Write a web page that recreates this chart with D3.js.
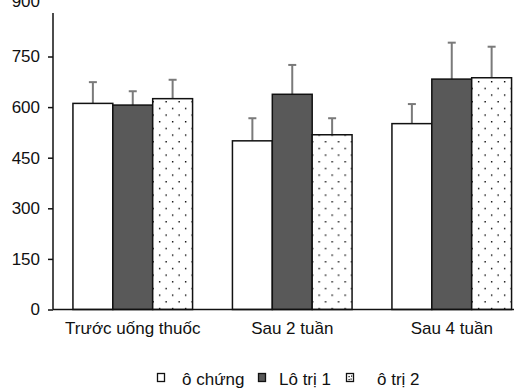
<!DOCTYPE html>
<html>
<head>
<meta charset="utf-8">
<script src="https://cdn.jsdelivr.net/npm/d3@7"></script>
<style>
  body { margin: 0; background: #fff; }
  svg { display: block; font-family: "Liberation Sans", Arial, sans-serif; }
</style>
</head>
<body>
<div id="chart"></div>
<script>
// data
const categories = ['Trước uống thuốc', 'Sau 2 tuần', 'Sau 4 tuần'];
const seriesNames = ['ô chứng', 'Lô trị 1', 'ô trị 2'];
// means per category x series
const means = [
    [611, 606, 625],
    [500, 638, 518],
    [551, 683, 687]
];
// top of the error bar (mean + sd)
const errTops = [
    [674, 647, 681],
    [567, 725, 567],
    [609, 791, 779]
];
const yTicks = [0, 150, 300, 450, 600, 750, 900];

const width = 514, height = 389;
const left = 53, bottom = 309.5;
const font = '17px';

const svg = d3.select('#chart').append('svg')
    .attr('width', width)
    .attr('height', height);

// dotted fill for the third series
const pat = svg.append('defs').append('pattern')
    .attr('id', 'dots')
    .attr('patternUnits', 'userSpaceOnUse')
    .attr('x', 476)
    .attr('y', 1)
    .attr('width', 13)
    .attr('height', 13.34);
pat.append('rect').attr('width', 13).attr('height', 13.34).attr('fill', '#fff');
pat.append('rect').attr('x', 0).attr('y', 0).attr('width', 1.4).attr('height', 1.4).attr('fill', '#000');
pat.append('rect').attr('x', 6.5).attr('y', 6.67).attr('width', 1.4).attr('height', 1.4).attr('fill', '#000');

const fills = ['#ffffff', '#595959', 'url(#dots)'];

const y = d3.scaleLinear().domain([0, 900]).range([bottom, bottom - 6 * 50.6]);
const x0 = d3.scaleBand().domain(categories)
    .range([left, 531.5])
    .paddingInner(0.25)
    .paddingOuter(0.125);
const x1 = d3.scaleBand().domain(d3.range(seriesNames.length))
    .range([0, x0.bandwidth()]);

// bars
const groups = svg.append('g')
    .selectAll('g')
    .data(categories)
    .enter().append('g')
    .attr('transform', d => `translate(${x0(d)},0)`);

groups.each(function(cat, ci) {
    const g = d3.select(this);
    const rows = means[ci].map((v, si) => ({ v, si, top: errTops[ci][si] }));
    const cx = d => x1(d.si) + x1.bandwidth() / 2;

    // error bars (upper only)
    g.selectAll('line.stem')
        .data(rows)
        .enter().append('line')
        .attr('x1', cx)
        .attr('x2', cx)
        .attr('y1', d => y(d.v))
        .attr('y2', d => y(d.top))
        .attr('stroke', '#7a7a7a')
        .attr('stroke-width', 2);
    g.selectAll('line.cap')
        .data(rows)
        .enter().append('line')
        .attr('x1', d => cx(d) - 4)
        .attr('x2', d => cx(d) + 4)
        .attr('y1', d => y(d.top))
        .attr('y2', d => y(d.top))
        .attr('stroke', '#7a7a7a')
        .attr('stroke-width', 2);

    g.selectAll('rect')
        .data(rows)
        .enter().append('rect')
        .attr('x', d => x1(d.si))
        .attr('y', d => y(d.v))
        .attr('width', x1.bandwidth())
        .attr('height', d => bottom - y(d.v))
        .attr('fill', d => fills[d.si])
        .attr('stroke', '#111')
        .attr('stroke-width', 1.5);
});

// y axis (top is cropped in the original: line starts below 900)
const yAxis = svg.append('g')
    .attr('transform', `translate(${left},0)`)
    .call(d3.axisLeft(y).tickValues(yTicks).tickSize(5).tickPadding(8).tickSizeOuter(0));
yAxis.select('.domain').attr('d', `M0,13V${bottom}`).attr('stroke', '#111').attr('stroke-width', 1.5);
yAxis.selectAll('.tick line').attr('stroke', '#111').attr('stroke-width', 1.5);
yAxis.selectAll('.tick').filter(d => d === 900).select('line').remove();
yAxis.selectAll('.tick').filter(d => d === 900).select('text').attr('y', -5);
yAxis.selectAll('text')
    .style('font-size', font)
    .style('font-family', '"Liberation Sans", Arial, sans-serif')
    .attr('fill', '#111');

// x axis
const xAxis = svg.append('g')
    .attr('transform', `translate(0,${bottom})`)
    .call(d3.axisBottom(x0).tickSize(0).tickPadding(12));
xAxis.select('.domain').attr('d', `M${left},0H${width}`).attr('stroke', '#111').attr('stroke-width', 1.5);
xAxis.selectAll('text')
    .style('font-size', font)
    .style('font-family', '"Liberation Sans", Arial, sans-serif')
    .attr('fill', '#111');

// legend
const legendX = [157, 258, 346];
const legendTextX = [182, 279, 377];
const legend = svg.append('g');
seriesNames.forEach((name, i) => {
    legend.append('rect')
        .attr('x', legendX[i] + 0.5)
        .attr('y', 373.5)
        .attr('width', 7)
        .attr('height', 8)
        .attr('fill', i === 2 ? '#fff' : fills[i])
        .attr('stroke', '#111')
        .attr('stroke-width', 1.3);
    if (i === 2) {
        [[2.5, 3], [4.5, 5.5], [2.5, 6], [5, 2.5]].forEach(p => {
            legend.append('rect')
                .attr('x', legendX[i] + p[0]).attr('y', 373 + p[1])
                .attr('width', 1.2).attr('height', 1.2).attr('fill', '#000');
        });
    }
    legend.append('text')
        .attr('x', legendTextX[i])
        .attr('y', 385)
        .style('font-size', font)
        .attr('fill', '#111')
        .text(name);
});
</script>
</body>
</html>
